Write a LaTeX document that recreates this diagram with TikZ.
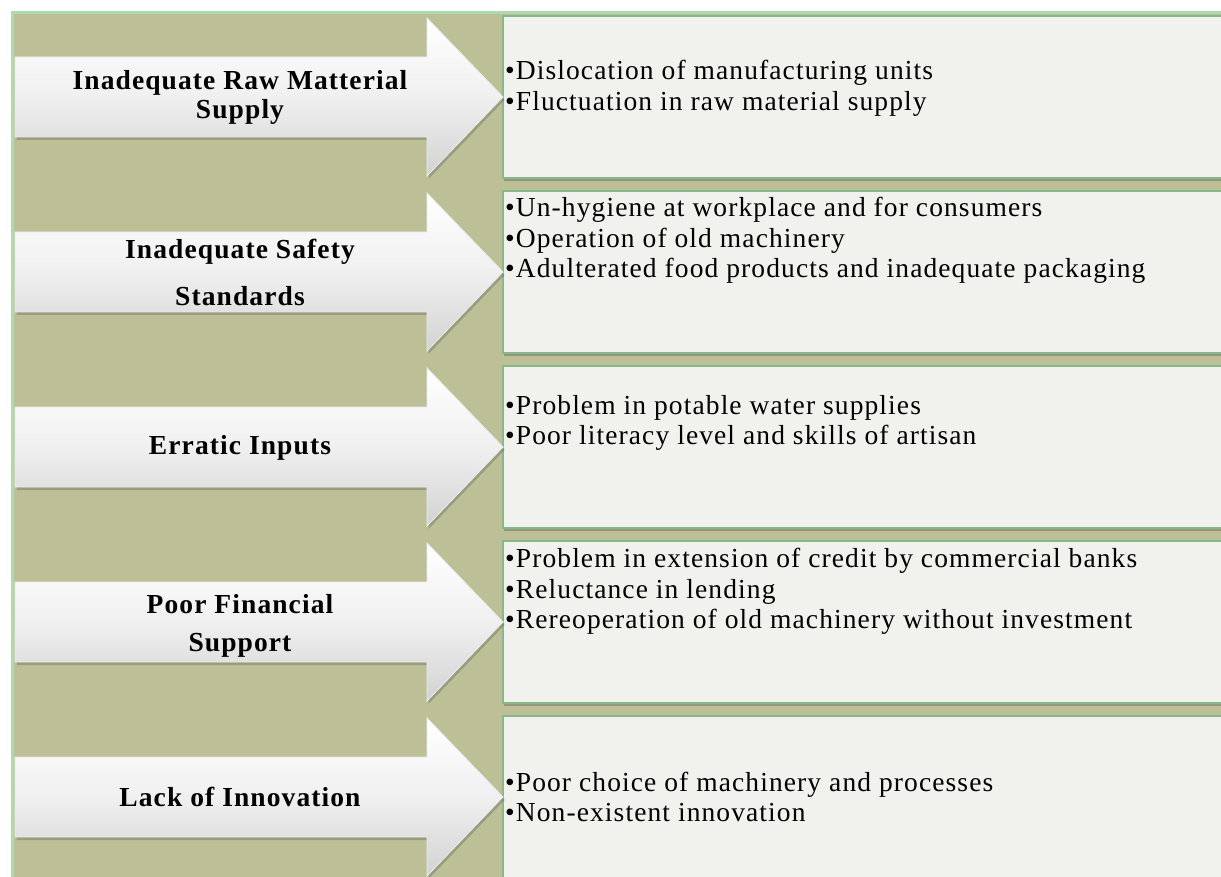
\documentclass[tikz,border=0pt]{standalone}
\usepackage{fontspec}
\setmainfont{Liberation Serif}
\usetikzlibrary{shadows}
\definecolor{olivebg}{HTML}{BDBF97}
\definecolor{boxfill}{HTML}{F1F1EE}
\definecolor{boxline}{HTML}{86B889}
\definecolor{frameline}{HTML}{AEDBAE}
\definecolor{arrowlow}{HTML}{D2D2D2}
\tikzset{
  x=1pt, y=-1pt,
  arrowshape/.style={top color=white, bottom color=arrowlow, middle color=white!94!black,
     draw=white!85!gray, line width=0.8pt,
     drop shadow={shadow xshift=1.5pt, shadow yshift=-3pt, opacity=0.3, fill=black!70}},
  itembox/.style={fill=boxfill, draw=boxline, line width=1.8pt,
     drop shadow={shadow xshift=1pt, shadow yshift=-3pt, opacity=0.35, fill=black!70}},
  lbl/.style={font=\fontsize{27.5}{30}\selectfont\bfseries\addfontfeature{LetterSpace=4}, inner sep=0pt, anchor=center},
  itm/.style={font=\fontsize{27.5}{31}\selectfont\addfontfeature{LetterSpace=4}, inner sep=0pt, anchor=base west},
}
\begin{document}
\begin{tikzpicture}
\useasboundingbox (0,0) rectangle (1221,877);
\begin{scope}
\clip (0,0) rectangle (1221,877);
% background
\fill[olivebg] (13,14) rectangle (1240,900);
\draw[frameline, line width=3pt] (12,900) -- (12,13) -- (1240,13);
% rows
\foreach \yc [count=\i] in {97,272,447,622,797}{
  \coordinate (b\i) at (503,\yc);
  \path[itembox] (503,\yc-81) rectangle (1240,\yc+81);
  \path[arrowshape] (15,\yc-40) -- (427,\yc-40) -- (427,\yc-79) -- (503,\yc)
     -- (427,\yc+79) -- (427,\yc+40) -- (15,\yc+40) -- cycle;
}
\end{scope}
% arrow labels
\node[lbl] (l1a) at (240,83) {Inadequate Raw Matterial};
\node[lbl] (l1b) at (240,112) {Supply};
\node[lbl] (l2a) at (240,252) {Inadequate Safety};
\node[lbl] (l2b) at (240,296) {Standards};
\node[lbl] (l3a) at (240,448) {Erratic Inputs};
\node[lbl] (l4a) at (240,604) {Poor Financial};
\node[lbl] (l4b) at (240,645) {Support};
\node[lbl] (l5a) at (240,797) {Lack of Innovation};
% box items
\node[itm] (t1a) at (505,80) {•Dislocation of manufacturing units};
\node[itm] (t1b) at (505,111) {•Fluctuation in raw material supply};
\node[itm] (t2a) at (505,217) {•Un-hygiene at workplace and for consumers};
\node[itm] (t2b) at (505,248) {•Operation of old machinery};
\node[itm] (t2c) at (505,278) {•Adulterated food products and inadequate packaging};
\node[itm] (t3a) at (505,414) {•Problem in potable water supplies};
\node[itm] (t3b) at (505,444) {•Poor literacy level and skills of artisan};
\node[itm] (t4a) at (505,567) {•Problem in extension of credit by commercial banks};
\node[itm] (t4b) at (505,598) {•Reluctance in lending};
\node[itm] (t4c) at (505,628) {•Rereoperation of old machinery without investment};
\node[itm] (t5a) at (505,791) {•Poor choice of machinery and processes};
\node[itm] (t5b) at (505,821) {•Non-existent innovation};
\end{tikzpicture}
\end{document}
